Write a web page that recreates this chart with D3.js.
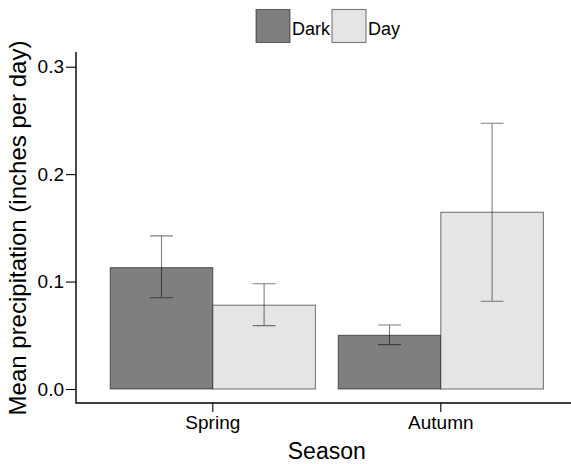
<!DOCTYPE html>
<html>
<head>
<meta charset="utf-8">
<script src="https://cdn.jsdelivr.net/npm/d3@7"></script>
<style>
  body { margin: 0; background: #fff; }
  .text { font-family: "Liberation Sans", Arial, sans-serif; fill: #000; }
</style>
</head>
<body>
<div id="chart"></div>
<script>
// Data
const seasons = ["Spring", "Autumn"];
const lights = ["Dark", "Day"];
const means = { Spring: [0.113, 0.078], Autumn: [0.050, 0.1645] };
const lower = { Spring: [0.085, 0.059], Autumn: [0.0413, 0.0817] };
const upper = { Spring: [0.1425, 0.098], Autumn: [0.0596, 0.2474] };
const yTicks = [0.0, 0.1, 0.2, 0.3];

const fills = { Dark: "#7f7f7f", Day: "#e5e5e5" };

const width = 571, height = 464;
const panel = { left: 76, right: 577.6, top: 52, bottom: 403 };

const rows = [];
seasons.forEach(s => lights.forEach((l, i) => rows.push({
    season: s, light: l, mean: means[s][i], lo: lower[s][i], hi: upper[s][i]
})));

const svg = d3.select("#chart").append("svg")
    .attr("width", width)
    .attr("height", height);

// Scales
const xScale = d3.scaleBand()
    .domain(seasons)
    .range([panel.left, panel.right])
    .paddingInner(0.1)
    .paddingOuter(0.15);

const xInner = d3.scaleBand()
    .domain(lights)
    .range([0, xScale.bandwidth()]);

const yScale = d3.scaleLinear()
    .domain([0, 0.3])
    .range([389, 66.7]);

// Bars
svg.append("g").selectAll("rect")
    .data(rows)
    .join("rect")
    .attr("x", d => xScale(d.season) + xInner(d.light))
    .attr("y", d => yScale(d.mean))
    .attr("width", xInner.bandwidth())
    .attr("height", d => yScale(0) - yScale(d.mean))
    .attr("fill", d => fills[d.light])
    .attr("stroke", "#000")
    .attr("stroke-opacity", 0.5)
    .attr("stroke-width", 1.1);

// Error bars
const capHalf = xScale.step() * 0.05;
const err = svg.append("g")
    .attr("stroke", "#000")
    .attr("stroke-opacity", 0.5)
    .attr("stroke-width", 1.1)
    .attr("fill", "none");

err.selectAll("path")
    .data(rows)
    .join("path")
    .attr("d", d => {
        const cx = xScale(d.season) + xInner(d.light) + xInner.bandwidth() / 2;
        const y1 = yScale(d.hi), y0 = yScale(d.lo);
        return `M${cx - capHalf},${y1}H${cx + capHalf}M${cx},${y1}V${y0}M${cx - capHalf},${y0}H${cx + capHalf}`;
    });

// Axes
const yAxis = svg.append("g")
    .attr("transform", `translate(${panel.left},0)`)
    .call(d3.axisLeft(yScale).tickValues(yTicks).tickFormat(d3.format(".1f")).tickSize(10).tickPadding(2))
    .call(g => g.select(".domain").remove());

const xAxis = svg.append("g")
    .attr("transform", `translate(0,${panel.bottom})`)
    .call(d3.axisBottom(xScale).tickSize(9).tickPadding(3))
    .call(g => g.select(".domain").remove());

[yAxis, xAxis].forEach(g => {
    g.selectAll("line").attr("stroke", "#000").attr("stroke-width", 1.1);
    g.selectAll("text").attr("class", "text").style("font-size", "19px")
        .attr("fill", "#000");
});
xAxis.selectAll("text").attr("dy", "0.75em");

// L-shaped axis lines
svg.append("path")
    .attr("d", `M${panel.left},${panel.top}V${panel.bottom}H${width}`)
    .attr("fill", "none")
    .attr("stroke", "#000")
    .attr("stroke-width", 1.4);

// Axis titles
svg.append("text")
    .attr("class", "text")
    .attr("x", (panel.left + panel.right) / 2)
    .attr("y", 459)
    .attr("text-anchor", "middle")
    .style("font-size", "23px")
    .text("Season");

svg.append("text")
    .attr("class", "text")
    .attr("transform", `translate(26, 228) rotate(-90)`)
    .attr("text-anchor", "middle")
    .style("font-size", "24px")
    .text("Mean precipitation (inches per day)");

// Legend
const legend = svg.append("g").attr("transform", "translate(256, 9.5)");
const keyX = [0, 76];
lights.forEach((l, i) => {
    legend.append("rect")
        .attr("x", keyX[i])
        .attr("y", 0)
        .attr("width", 34)
        .attr("height", 33)
        .attr("fill", fills[l])
        .attr("stroke", "#000")
        .attr("stroke-opacity", 0.5)
        .attr("stroke-width", 1.1);
    legend.append("text")
        .attr("class", "text")
        .attr("x", keyX[i] + 36)
        .attr("y", 25.5)
        .style("font-size", "18px")
        .text(l);
});
</script>
</body>
</html>
